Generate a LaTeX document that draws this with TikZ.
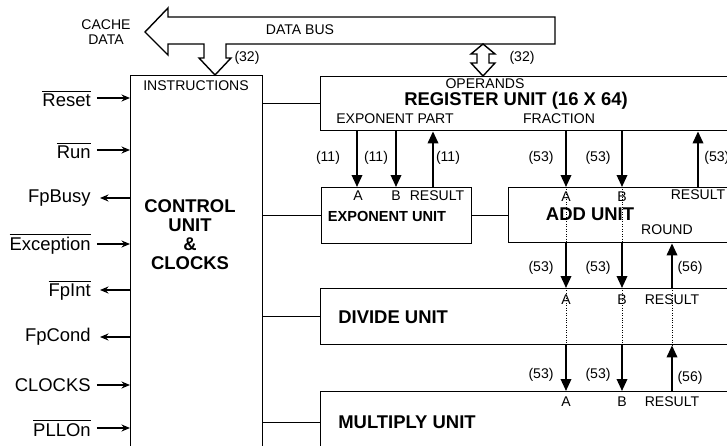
\documentclass[tikz,border=0pt]{standalone}
\usepackage{fontspec}
\setmainfont{Liberation Sans}
\usetikzlibrary{positioning,arrows.meta,calc}
\tikzset{
  unitbox/.style={rectangle,draw=black,thick,anchor=north west,inner sep=0pt},
  lbl/.style={inner sep=0pt,font=\fontsize{8}{8.6}\selectfont},
  sig/.style={inner sep=0pt,anchor=east,font=\fontsize{10.5}{12}\selectfont},
  unitname/.style={inner sep=0pt,font=\bfseries\fontsize{10.5}{10.8}\selectfont},
  smallname/.style={inner sep=0pt,font=\bfseries\fontsize{8.3}{10}\selectfont},
  fedge/.style={-{Triangle[length=2.4mm,width=2.1mm]},line width=1.1pt},
  sigin/.style={-{Stealth[length=1.7mm,width=1.4mm]},thick},
  link/.style={thick},
  thru/.style={densely dotted,thin}
}

\begin{document}
\begin{tikzpicture}[x=0.02cm,y=-0.02cm]
  \clip (0,0) rectangle (727,446);
  \node[unitbox,minimum width=2.64cm,minimum height=8cm] (ctrl) at (130,75) {};
  \node[unitbox,minimum width=8.4cm,minimum height=1.08cm] (reg) at (320,76) {};
  \node[unitbox,minimum width=3cm,minimum height=1.12cm] (expo) at (321,187) {};
  \node[unitbox,minimum width=4.64cm,minimum height=1.1cm] (add) at (508,187) {};
  \node[unitbox,minimum width=8.4cm,minimum height=1.12cm] (div) at (320,288) {};
  \node[unitbox,minimum width=8.4cm,minimum height=1.24cm] (mul) at (320,391) {};

  \draw[thick] (555,17) -- (168,17) -- (168,8) -- (145,32) -- (168,55) -- (168,44) -- (204,44) -- (204,58) -- (199,58) -- (215,75) -- (231,58) -- (226,58) -- (226,44) -- (555,44) -- cycle;
  \draw[thick] (483,44) -- (471,54) -- (477,54) -- (477,63) -- (471,63) -- (483,76) -- (495,63) -- (489,63) -- (489,54) -- (495,54) -- cycle;

  \node[lbl,align=center] (cache) at (106,32) {CACHE\\DATA};
  \node[lbl] (busname) at (300,30) {DATA BUS};
  \node[lbl] (wida) at (247,58) {(32)};
  \node[lbl] (widb) at (522,58) {(32)};
  \node[lbl] (instr) at (196,86) {INSTRUCTIONS};
  \node[unitname,align=center] (ctrlname) at (190,235) {CONTROL\\UNIT\\\&\\CLOCKS};

  \node[sig] (reset) at (91,98) {$\overline{\mbox{Reset}}$};
  \node[sig] (run) at (91,150) {$\overline{\mbox{Run}}$};
  \node[sig] (busy) at (91,198) {FpBusy};
  \node[sig] (excp) at (91,244) {$\overline{\mbox{Exception}}$};
  \node[sig] (fpint) at (91,290) {$\overline{\mbox{FpInt}}$};
  \node[sig] (cond) at (91,337) {FpCond};
  \node[sig] (clocks) at (91,385) {CLOCKS};
  \node[sig] (pllon) at (91,428) {$\overline{\mbox{PLLOn}}$};
  \draw[sigin] ([xshift=0.12cm]reset.east) -- (reset.east -| ctrl.west);
  \draw[sigin] ([xshift=0.12cm]run.east) -- (run.east -| ctrl.west);
  \draw[sigin] (busy.east -| ctrl.west) -- ([xshift=0.18cm]busy.east);
  \draw[sigin] ([xshift=0.12cm]excp.east) -- (excp.east -| ctrl.west);
  \draw[sigin] (fpint.east -| ctrl.west) -- ([xshift=0.18cm]fpint.east);
  \draw[sigin] (cond.east -| ctrl.west) -- ([xshift=0.18cm]cond.east);
  \draw[sigin] ([xshift=0.12cm]clocks.east) -- (clocks.east -| ctrl.west);
  \draw[sigin] ([xshift=0.12cm]pllon.east) -- (pllon.east -| ctrl.west);

  \draw[link] (reg.west) -- (reg.west -| ctrl.east);
  \draw[link] (expo.west) -- (expo.west -| ctrl.east);
  \draw[link] (div.west) -- (div.west -| ctrl.east);
  \draw[link] (mul.west) -- (mul.west -| ctrl.east);
  \draw[link] (expo.east) -- (expo.east -| add.west);

  \node[lbl] (operands) at (485,84) {OPERANDS};
  \node[unitname] (regname) at (516,101) {REGISTER UNIT (16 X 64)};
  \node[lbl] (exppart) at (395,119) {EXPONENT PART};
  \node[lbl] (fraction) at (559,119) {FRACTION};

  \coordinate (eA) at (357,0);
  \coordinate (eB) at (396,0);
  \coordinate (eR) at (433,0);
  \coordinate (fA) at (566,0);
  \coordinate (fB) at (622,0);
  \coordinate (fR) at (698,0);
  \coordinate (rnd) at (672,0);

  \draw[fedge] (reg.south -| eA) -- (expo.north -| eA);
  \draw[fedge] (reg.south -| eB) -- (expo.north -| eB);
  \draw[fedge] (expo.north -| eR) -- (reg.south -| eR);
  \draw[fedge] (reg.south -| fA) -- (add.north -| fA);
  \draw[fedge] (reg.south -| fB) -- (add.north -| fB);
  \draw[fedge] (add.north -| fR) -- (reg.south -| fR);
  \draw[thru] (add.north -| fA) -- (add.south -| fA);
  \draw[thru] (add.north -| fB) -- (add.south -| fB);
  \draw[fedge] (add.south -| fA) -- (div.north -| fA);
  \draw[fedge] (add.south -| fB) -- (div.north -| fB);
  \draw[fedge] (div.north -| rnd) -- (add.south -| rnd);
  \draw[thru] (div.north -| fA) -- (div.south -| fA);
  \draw[thru] (div.north -| fB) -- (div.south -| fB);
  \draw[thru] (div.north -| rnd) -- (div.south -| rnd);
  \draw[fedge] (div.south -| fA) -- (mul.north -| fA);
  \draw[fedge] (div.south -| fB) -- (mul.north -| fB);
  \draw[fedge] (mul.north -| rnd) -- (div.south -| rnd);

  \node[lbl] (wea) at (328,158) {(11)};
  \node[lbl] (web) at (376,158) {(11)};
  \node[lbl] (wer) at (448,158) {(11)};
  \node[lbl] (wfa) at (541,158) {(53)};
  \node[lbl] (wfb) at (598,158) {(53)};
  \node[lbl,anchor=west] (wfr) at (704,158) {(53)};
  \node[lbl] (wda) at (541,268) {(53)};
  \node[lbl] (wdb) at (598,268) {(53)};
  \node[lbl] (wdr) at (690,268) {(56)};
  \node[lbl] (wma) at (541,375) {(53)};
  \node[lbl] (wmb) at (598,375) {(53)};
  \node[lbl] (wmr) at (690,378) {(56)};

  \node[lbl] (expoa) at (358,196) {A};
  \node[lbl] (expob) at (396,196) {B};
  \node[lbl] (expor) at (437,196) {RESULT};
  \node[smallname] (exponame) at (387,216) {EXPONENT UNIT};
  \node[lbl] (adda) at (566,197) {A};
  \node[lbl] (addb) at (622,197) {B};
  \node[lbl] (addr) at (698,195) {RESULT};
  \node[unitname] (addname) at (590,214) {ADD UNIT};
  \node[lbl] (round) at (667,230) {ROUND};
  \node[lbl] (diva) at (566,300) {A};
  \node[lbl] (divb) at (622,300) {B};
  \node[lbl] (divr) at (672,300) {RESULT};
  \node[unitname,anchor=west] (divname) at (338,317) {DIVIDE UNIT};
  \node[lbl] (mula) at (566,402) {A};
  \node[lbl] (mulb) at (622,402) {B};
  \node[lbl] (mulr) at (672,402) {RESULT};
  \node[unitname,anchor=west] (mulname) at (338,422) {MULTIPLY UNIT};
\end{tikzpicture}
\end{document}
